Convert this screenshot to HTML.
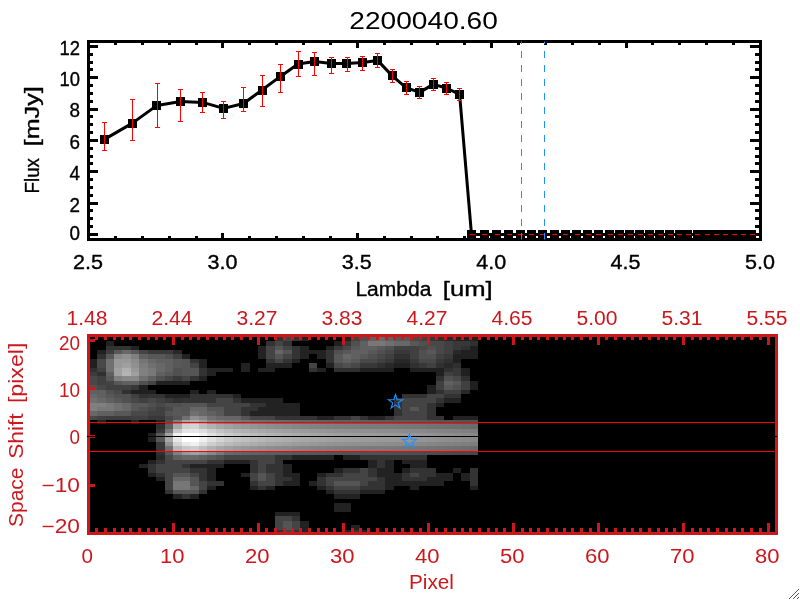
<!DOCTYPE html>
<html lang="en"><head><meta charset="utf-8"><title>2200040.60</title>
<style>html,body{margin:0;padding:0;background:#fff;overflow:hidden}svg{will-change:transform}svg text{white-space:pre}</style></head>
<body>
<svg width="800" height="600" viewBox="0 0 800 600" style="display:block">
<rect x="0" y="0" width="800" height="600" fill="#fff"/>
<rect x="88.5" y="41.5" width="672" height="198" fill="none" stroke="#000" stroke-width="3" shape-rendering="crispEdges"/>
<path fill="none" stroke="#000" stroke-width="3" shape-rendering="crispEdges" d="M88.5 233.0v5M88.5 43.0v5M115.5 236.0v2M115.5 43.0v2M142.5 236.0v2M142.5 43.0v2M169.5 236.0v2M169.5 43.0v2M196.5 236.0v2M196.5 43.0v2M222.5 233.0v5M222.5 43.0v5M249.5 236.0v2M249.5 43.0v2M276.5 236.0v2M276.5 43.0v2M303.5 236.0v2M303.5 43.0v2M330.5 236.0v2M330.5 43.0v2M357.5 233.0v5M357.5 43.0v5M384.5 236.0v2M384.5 43.0v2M411.5 236.0v2M411.5 43.0v2M437.5 236.0v2M437.5 43.0v2M464.5 236.0v2M464.5 43.0v2M491.5 233.0v5M491.5 43.0v5M518.5 236.0v2M518.5 43.0v2M545.5 236.0v2M545.5 43.0v2M572.5 236.0v2M572.5 43.0v2M599.5 236.0v2M599.5 43.0v2M626.5 233.0v5M626.5 43.0v5M652.5 236.0v2M652.5 43.0v2M679.5 236.0v2M679.5 43.0v2M706.5 236.0v2M706.5 43.0v2M733.5 236.0v2M733.5 43.0v2M760.5 233.0v5M760.5 43.0v5M90 234.5h8M759 234.5h-9M90 226.5h3M759 226.5h-4M90 218.5h3M759 218.5h-4M90 210.5h3M759 210.5h-4M90 203.5h8M759 203.5h-9M90 195.5h3M759 195.5h-4M90 187.5h3M759 187.5h-4M90 179.5h3M759 179.5h-4M90 171.5h8M759 171.5h-9M90 163.5h3M759 163.5h-4M90 156.5h3M759 156.5h-4M90 148.5h3M759 148.5h-4M90 140.5h8M759 140.5h-9M90 132.5h3M759 132.5h-4M90 124.5h3M759 124.5h-4M90 116.5h3M759 116.5h-4M90 109.5h8M759 109.5h-9M90 101.5h3M759 101.5h-4M90 93.5h3M759 93.5h-4M90 85.5h3M759 85.5h-4M90 77.5h8M759 77.5h-9M90 69.5h3M759 69.5h-4M90 62.5h3M759 62.5h-4M90 54.5h3M759 54.5h-4M90 46.5h8M759 46.5h-9"/>
<defs><clipPath id="cu"><rect x="88.5" y="41.5" width="672" height="198"/></clipPath></defs>
<g clip-path="url(#cu)">
<polyline fill="none" stroke="#000" stroke-width="3" stroke-linejoin="round" points="104.4,139.4 132.0,123.4 157.0,105.4 180.6,101.6 202.6,102.4 223.6,108.4 243.6,103.5 262.0,90.0 280.4,76.4 298.0,64.0 314.8,61.6 331.2,63.6 347.0,63.6 362.4,62.4 377.6,60.4 392.0,75.6 406.0,87.6 419.6,92.4 433.2,84.4 446.4,88.0 459.6,94.4 471.5,234.5 484.4,234.5 496.6,234.5 508.6,234.5 520.0,234.5 531.4,234.5 542.4,234.5 554.0,234.5 565.4,234.5 576.6,234.5 587.6,234.5 598.4,234.5 609.6,234.5 619.6,234.5 629.6,234.5 639.6,234.5 649.6,234.5 659.6,234.5 669.6,234.5 679.4,234.5 687.6,234.5 697.4,234.5 706.6,234.5 715.9,234.5 724.9,234.5 733.9,234.5 742.9,234.5 751.9,234.5"/>
<path fill="#000" shape-rendering="crispEdges" d="M100 135h9v9h-9zM128 119h9v9h-9zM152 101h9v9h-9zM176 97h9v9h-9zM198 98h9v9h-9zM219 104h9v9h-9zM239 99h9v9h-9zM258 86h9v9h-9zM276 72h9v9h-9zM294 60h9v9h-9zM310 57h9v9h-9zM327 59h9v9h-9zM342 59h9v9h-9zM358 58h9v9h-9zM373 56h9v9h-9zM388 71h9v9h-9zM402 83h9v9h-9zM415 88h9v9h-9zM429 80h9v9h-9zM442 84h9v9h-9zM455 90h9v9h-9zM467 230h9v9h-9zM480 230h9v9h-9zM492 230h9v9h-9zM504 230h9v9h-9zM516 230h9v9h-9zM527 230h9v9h-9zM538 230h9v9h-9zM550 230h9v9h-9zM561 230h9v9h-9zM572 230h9v9h-9zM583 230h9v9h-9zM594 230h9v9h-9zM605 230h9v9h-9zM615 230h9v9h-9zM625 230h9v9h-9zM635 230h9v9h-9zM645 230h9v9h-9zM655 230h9v9h-9zM665 230h9v9h-9zM675 230h9v9h-9zM683 230h9v9h-9zM693 230h9v9h-9zM702 230h9v9h-9zM711 230h9v9h-9zM720 230h9v9h-9zM729 230h9v9h-9zM738 230h9v9h-9zM747 230h9v9h-9z"/>
<path fill="none" stroke="#f00" stroke-width="1" shape-rendering="crispEdges" d="M104.5 122.0V151.0M102.0 122.5h5M102.0 150.5h5M132.5 99.0V141.0M130.0 99.5h5M130.0 140.5h5M157.5 83.0V128.0M155.0 83.5h5M155.0 127.5h5M180.5 89.0V122.0M178.0 89.5h5M178.0 121.5h5M202.5 92.0V113.0M200.0 92.5h5M200.0 112.5h5M223.5 101.0V119.0M221.0 101.5h5M221.0 118.5h5M243.5 87.0V112.0M241.0 87.5h5M241.0 111.5h5M262.5 75.0V107.0M260.0 75.5h5M260.0 106.5h5M280.5 64.0V93.0M278.0 64.5h5M278.0 92.5h5M298.5 51.0V77.0M296.0 51.5h5M296.0 76.5h5M314.5 52.0V76.0M312.0 52.5h5M312.0 75.5h5M331.5 57.0V74.0M329.0 57.5h5M329.0 73.5h5M347.5 57.0V72.0M345.0 57.5h5M345.0 71.5h5M362.5 56.0V71.0M360.0 56.5h5M360.0 70.5h5M377.5 53.0V68.0M375.0 53.5h5M375.0 67.5h5M392.5 69.0V83.0M390.0 69.5h5M390.0 82.5h5M406.5 81.0V95.0M404.0 81.5h5M404.0 94.5h5M419.5 86.0V99.0M417.0 86.5h5M417.0 98.5h5M433.5 78.0V91.0M431.0 78.5h5M431.0 90.5h5M446.5 82.0V95.0M444.0 82.5h5M444.0 94.5h5M459.5 88.0V101.0M457.0 88.5h5M457.0 100.5h5M469.5 234.5h5M481.5 234.5h5M494.5 234.5h5M506.5 234.5h5M517.5 234.5h5M528.5 234.5h5M539.5 234.5h5M551.5 234.5h5M562.5 234.5h5M574.5 234.5h5M585.5 234.5h5M595.5 234.5h5M607.5 234.5h5M617.5 234.5h5M627.5 234.5h5M637.5 234.5h5M647.5 234.5h5M657.5 234.5h5M667.5 234.5h5M676.5 234.5h5M685.5 234.5h5M694.5 234.5h5M704.5 234.5h5M713.5 234.5h5M722.5 234.5h5M731.5 234.5h5M740.5 234.5h5M749.5 234.5h5"/>
<path fill="none" stroke="#1e90ff" stroke-width="1" shape-rendering="crispEdges" stroke-dasharray="7 7" stroke-dashoffset="-0" d="M521.5 37V241M544.5 37V241"/>
</g>
<g font-family="'Liberation Sans', sans-serif">
<text x="423.6" y="29.2" font-size="24.6" fill="#000" text-anchor="middle" textLength="148.5" lengthAdjust="spacingAndGlyphs">2200040.60</text>
<g stroke="#000" stroke-width="0.35" stroke-linejoin="round">
<text x="80.0" y="55.3" font-size="19.6" fill="#000" text-anchor="end" textLength="20.5" lengthAdjust="spacingAndGlyphs">12</text>
<text x="80.0" y="85.8" font-size="19.6" fill="#000" text-anchor="end" textLength="20.5" lengthAdjust="spacingAndGlyphs">10</text>
<text x="80.0" y="117.0" font-size="19.6" fill="#000" text-anchor="end" textLength="10.5" lengthAdjust="spacingAndGlyphs">8</text>
<text x="80.0" y="148.6" font-size="19.6" fill="#000" text-anchor="end" textLength="10.5" lengthAdjust="spacingAndGlyphs">6</text>
<text x="80.0" y="179.8" font-size="19.6" fill="#000" text-anchor="end" textLength="10.5" lengthAdjust="spacingAndGlyphs">4</text>
<text x="80.0" y="211.6" font-size="19.6" fill="#000" text-anchor="end" textLength="10.5" lengthAdjust="spacingAndGlyphs">2</text>
<text x="80.0" y="240.0" font-size="19.6" fill="#000" text-anchor="end" textLength="10.5" lengthAdjust="spacingAndGlyphs">0</text>
<text x="88.0" y="269.4" font-size="19.6" fill="#000" text-anchor="middle" textLength="30.0" lengthAdjust="spacingAndGlyphs">2.5</text>
<text x="222.4" y="269.4" font-size="19.6" fill="#000" text-anchor="middle" textLength="30.0" lengthAdjust="spacingAndGlyphs">3.0</text>
<text x="356.8" y="269.4" font-size="19.6" fill="#000" text-anchor="middle" textLength="30.0" lengthAdjust="spacingAndGlyphs">3.5</text>
<text x="491.2" y="269.4" font-size="19.6" fill="#000" text-anchor="middle" textLength="30.0" lengthAdjust="spacingAndGlyphs">4.0</text>
<text x="625.6" y="269.4" font-size="19.6" fill="#000" text-anchor="middle" textLength="30.0" lengthAdjust="spacingAndGlyphs">4.5</text>
<text x="760.0" y="269.4" font-size="19.6" fill="#000" text-anchor="middle" textLength="30.0" lengthAdjust="spacingAndGlyphs">5.0</text>
<text y="295.6" font-size="19.6" fill="#000"><tspan x="355.4" textLength="76.0" lengthAdjust="spacingAndGlyphs">Lambda</tspan><tspan font-size="1"> </tspan><tspan x="442.8" textLength="49.8" lengthAdjust="spacingAndGlyphs">[um]</tspan></text>
<text y="140.0" font-size="19.6" fill="#000" transform="rotate(-90 39.0 140.0)"><tspan x="-14.5" textLength="35.5" lengthAdjust="spacingAndGlyphs">Flux</tspan><tspan font-size="1"> </tspan><tspan x="32.7" textLength="60.0" lengthAdjust="spacingAndGlyphs">[mJy]</tspan></text>
</g></g>
<rect x="88" y="335" width="689" height="199" fill="#000"/>
<g shape-rendering="crispEdges">
<path fill="rgb(32,32,32)" d="M343 337h8v4h-8zM453 337h25v4h-25zM334 341h9v5h-9zM470 346h8v4h-8zM97 350h9v4h-9zM461 350h17v4h-17zM453 354h25v5h-25zM89 359h8v4h-8zM453 359h8v4h-8zM89 363h8v5h-8zM394 363h16v5h-16zM360 368h34v4h-34zM410 368h34v4h-34zM461 368h9v4h-9zM436 372h8v4h-8zM461 372h9v4h-9zM156 381h26v4h-26zM470 381h8v4h-8zM139 385h9v5h-9zM427 385h9v5h-9zM470 385h8v5h-8zM131 390h25v4h-25zM427 390h9v4h-9zM156 420h9v4h-9zM148 433h8v5h-8zM148 438h8v4h-8z"/>
<path fill="rgb(34,34,34)" d="M300 337h9v4h-9zM106 341h8v5h-8zM131 346h8v4h-8zM258 346h8v4h-8zM300 346h9v4h-9zM326 346h8v4h-8zM258 350h8v4h-8zM300 350h26v4h-26zM182 354h8v5h-8zM258 354h8v5h-8zM300 354h9v5h-9zM317 354h9v5h-9zM199 359h8v4h-8zM292 359h8v4h-8zM199 363h8v5h-8zM241 363h9v5h-9zM266 363h26v5h-26zM326 363h8v5h-8zM207 368h26v4h-26zM241 368h9v4h-9zM258 368h17v4h-17zM317 368h9v4h-9zM207 372h9v4h-9zM199 376h8v5h-8zM182 381h8v4h-8zM190 390h9v4h-9zM207 390h9v4h-9zM165 394h25v4h-25zM233 394h8v4h-8zM241 398h42v5h-42zM444 398h17v5h-17zM266 403h34v4h-34zM436 403h8v4h-8zM258 407h42v4h-42zM250 411h50v5h-50zM317 416h17v4h-17zM368 416h17v4h-17zM453 416h25v4h-25zM97 420h9v4h-9zM131 420h8v4h-8zM292 455h42v5h-42zM343 455h17v5h-17zM148 460h8v4h-8zM224 460h26v4h-26zM368 460h9v4h-9zM385 460h9v4h-9zM402 460h25v4h-25zM139 464h9v4h-9zM190 464h34v4h-34zM283 464h9v4h-9zM368 464h9v4h-9zM385 464h9v4h-9zM410 464h17v4h-17zM207 468h9v5h-9zM283 468h9v5h-9zM334 468h9v5h-9zM377 468h17v5h-17zM402 468h8v5h-8zM453 468h8v5h-8zM148 473h8v4h-8zM207 473h9v4h-9zM241 473h9v4h-9zM283 473h17v4h-17zM317 473h9v4h-9zM377 473h25v4h-25zM436 473h17v4h-17zM461 473h9v4h-9zM156 477h9v4h-9zM207 477h9v4h-9zM292 477h8v4h-8zM385 477h17v4h-17zM427 477h26v4h-26zM461 477h9v4h-9zM283 481h17v5h-17zM309 481h8v5h-8zM385 481h59v5h-59zM207 486h9v4h-9zM250 486h8v4h-8zM266 486h9v4h-9zM317 486h9v4h-9zM385 486h9v4h-9zM410 486h9v4h-9zM470 486h8v4h-8zM326 490h8v4h-8zM360 490h25v4h-25zM173 494h9v5h-9zM190 494h9v5h-9zM334 494h26v5h-26zM334 503h17v5h-17zM334 508h17v4h-17zM275 512h25v4h-25zM300 521h9v4h-9zM300 525h9v5h-9zM351 525h9v5h-9zM300 530h9v4h-9zM343 530h8v4h-8zM360 530h8v4h-8z"/>
<path fill="rgb(40,40,40)" d="M444 337h9v4h-9zM173 350h9v4h-9zM453 350h8v4h-8zM394 359h16v4h-16zM385 363h9v5h-9zM444 363h9v5h-9zM461 390h9v4h-9zM156 455h9v5h-9z"/>
<path fill="rgb(48,48,48)" d="M436 337h8v4h-8zM470 341h8v5h-8zM461 346h9v4h-9zM97 354h9v5h-9zM394 354h16v5h-16zM444 359h9v4h-9zM377 363h8v5h-8zM410 363h9v5h-9zM436 363h8v5h-8zM453 363h8v5h-8zM89 368h8v4h-8zM334 368h26v4h-26zM444 368h9v4h-9zM97 372h9v4h-9zM436 376h8v5h-8zM461 376h9v5h-9zM122 390h9v4h-9zM436 390h8v4h-8zM139 394h9v4h-9zM173 398h9v5h-9zM156 424h9v5h-9zM156 451h9v4h-9z"/>
<path fill="rgb(51,51,51)" d="M275 337h8v4h-8zM292 337h8v4h-8zM266 341h9v5h-9zM283 341h9v5h-9zM106 346h25v4h-25zM292 346h8v4h-8zM292 350h8v4h-8zM326 350h8v4h-8zM292 354h8v5h-8zM326 354h8v5h-8zM190 359h9v4h-9zM266 359h9v4h-9zM283 359h9v4h-9zM326 359h8v4h-8zM199 368h8v4h-8zM309 368h8v4h-8zM199 372h8v4h-8zM190 376h9v5h-9zM148 394h17v4h-17zM190 394h43v4h-43zM402 394h25v4h-25zM444 394h17v4h-17zM182 398h34v5h-34zM233 398h8v5h-8zM394 398h8v5h-8zM436 398h8v5h-8zM250 403h16v4h-16zM394 403h8v4h-8zM427 403h9v4h-9zM241 407h17v4h-17zM394 407h8v4h-8zM427 407h9v4h-9zM241 411h9v5h-9zM394 411h8v5h-8zM427 411h9v5h-9zM275 416h42v4h-42zM334 416h17v4h-17zM360 416h8v4h-8zM385 416h9v4h-9zM427 416h17v4h-17zM275 455h17v5h-17zM360 455h67v5h-67zM156 460h9v4h-9zM207 460h17v4h-17zM250 460h8v4h-8zM275 460h8v4h-8zM377 460h8v4h-8zM148 464h8v4h-8zM182 464h8v4h-8zM250 464h8v4h-8zM266 464h17v4h-17zM377 464h8v4h-8zM148 468h8v5h-8zM190 468h17v5h-17zM250 468h8v5h-8zM266 468h17v5h-17zM343 468h17v5h-17zM368 468h9v5h-9zM410 468h26v5h-26zM470 468h8v5h-8zM156 473h9v4h-9zM199 473h8v4h-8zM275 473h8v4h-8zM326 473h17v4h-17zM368 473h9v4h-9zM402 473h8v4h-8zM419 473h17v4h-17zM470 473h8v4h-8zM199 477h8v4h-8zM275 477h17v4h-17zM317 477h9v4h-9zM377 477h8v4h-8zM402 477h25v4h-25zM470 477h8v4h-8zM207 481h17v5h-17zM250 481h8v5h-8zM275 481h8v5h-8zM317 481h9v5h-9zM368 481h17v5h-17zM470 481h8v5h-8zM258 486h8v4h-8zM326 486h8v4h-8zM360 486h25v4h-25zM165 490h8v4h-8zM199 490h8v4h-8zM334 490h26v4h-26zM182 494h8v5h-8zM292 516h8v5h-8zM275 530h8v4h-8zM292 530h8v4h-8zM351 530h9v4h-9z"/>
<path fill="rgb(56,56,56)" d="M427 337h9v4h-9zM343 341h8v5h-8zM453 341h17v5h-17zM334 346h9v4h-9zM453 346h8v4h-8zM148 350h25v4h-25zM394 350h16v4h-16zM444 354h9v5h-9zM385 359h9v4h-9zM410 359h9v4h-9zM436 359h8v4h-8zM360 363h17v5h-17zM419 363h8v5h-8zM453 368h8v4h-8zM453 372h8v4h-8zM173 376h9v5h-9zM131 385h8v5h-8zM165 398h8v5h-8zM148 416h17v4h-17zM156 429h9v4h-9zM156 442h9v4h-9zM156 446h9v5h-9z"/>
<path fill="rgb(60,60,60)" d="M106 350h8v4h-8zM89 372h8v4h-8zM106 416h25v4h-25z"/>
<path fill="rgb(64,64,64)" d="M351 337h9v4h-9zM419 337h8v4h-8zM444 341h9v5h-9zM394 346h25v4h-25zM444 346h9v4h-9zM410 350h9v4h-9zM444 350h9v4h-9zM173 354h9v5h-9zM385 354h9v5h-9zM410 354h9v5h-9zM436 354h8v5h-8zM377 359h8v4h-8zM427 363h9v5h-9zM97 368h9v4h-9zM444 372h9v4h-9zM97 376h9v5h-9zM97 381h9v4h-9zM436 381h8v4h-8zM461 381h9v4h-9zM106 385h25v5h-25zM436 385h8v5h-8zM461 385h9v5h-9zM444 390h17v4h-17zM131 394h8v4h-8zM139 398h9v5h-9zM156 398h9v5h-9zM156 407h9v4h-9zM148 411h17v5h-17zM97 416h9v4h-9zM131 416h17v4h-17z"/>
<path fill="rgb(68,68,68)" d="M283 337h9v4h-9zM275 341h8v5h-8zM266 346h9v4h-9zM283 346h9v4h-9zM139 350h9v4h-9zM266 350h9v4h-9zM266 354h9v5h-9zM283 354h9v5h-9zM275 359h8v4h-8zM190 363h9v5h-9zM309 363h8v5h-8zM165 376h8v5h-8zM182 376h8v5h-8zM106 381h8v4h-8zM148 381h8v4h-8zM427 394h17v4h-17zM216 398h17v5h-17zM402 398h34v5h-34zM207 403h43v4h-43zM402 403h25v4h-25zM224 407h17v4h-17zM402 407h8v4h-8zM419 407h8v4h-8zM224 411h17v5h-17zM402 411h25v5h-25zM250 416h25v4h-25zM351 416h9v4h-9zM394 416h33v4h-33zM224 455h51v5h-51zM165 460h42v4h-42zM258 460h17v4h-17zM156 464h26v4h-26zM258 464h8v4h-8zM156 468h34v5h-34zM258 468h8v5h-8zM360 468h8v5h-8zM165 473h8v4h-8zM190 473h9v4h-9zM250 473h8v4h-8zM266 473h9v4h-9zM343 473h25v4h-25zM410 473h9v4h-9zM165 477h8v4h-8zM250 477h8v4h-8zM266 477h9v4h-9zM326 477h51v4h-51zM165 481h8v5h-8zM199 481h8v5h-8zM258 481h17v5h-17zM326 481h8v5h-8zM360 481h8v5h-8zM165 486h8v4h-8zM199 486h8v4h-8zM334 486h26v4h-26zM275 516h17v5h-17zM275 521h8v4h-8zM292 521h8v4h-8zM275 525h8v5h-8zM292 525h8v5h-8zM283 530h9v4h-9z"/>
<path fill="rgb(71,71,71)" d="M470 451h8v4h-8z"/>
<path fill="rgb(72,72,72)" d="M410 337h9v4h-9zM427 341h17v5h-17zM343 346h8v4h-8zM419 346h8v4h-8zM436 346h8v4h-8zM385 350h9v4h-9zM436 350h8v4h-8zM377 354h8v5h-8zM97 359h9v4h-9zM360 359h17v4h-17zM419 359h17v4h-17zM97 363h9v5h-9zM334 363h9v5h-9zM351 363h9v5h-9zM89 376h8v5h-8zM453 376h8v5h-8zM89 381h8v4h-8zM97 385h9v5h-9zM114 390h8v4h-8zM131 398h8v5h-8zM148 398h8v5h-8zM156 403h9v4h-9zM148 407h8v4h-8zM165 407h8v4h-8zM131 411h17v5h-17zM89 416h8v4h-8zM165 416h8v4h-8zM461 451h9v4h-9zM165 455h8v5h-8z"/>
<path fill="rgb(73,73,73)" d="M453 451h8v4h-8z"/>
<path fill="rgb(74,74,74)" d="M444 451h9v4h-9z"/>
<path fill="rgb(75,75,75)" d="M436 451h8v4h-8z"/>
<path fill="rgb(76,76,76)" d="M427 451h9v4h-9z"/>
<path fill="rgb(77,77,77)" d="M419 451h8v4h-8z"/>
<path fill="rgb(78,78,78)" d="M410 451h9v4h-9z"/>
<path fill="rgb(79,79,79)" d="M394 451h16v4h-16z"/>
<path fill="rgb(80,80,80)" d="M360 337h8v4h-8zM351 341h9v5h-9zM419 341h8v5h-8zM385 346h9v4h-9zM427 346h9v4h-9zM334 350h9v4h-9zM377 350h8v4h-8zM419 350h8v4h-8zM165 354h8v5h-8zM368 354h9v5h-9zM419 354h17v5h-17zM343 363h8v5h-8zM173 368h9v4h-9zM173 372h9v4h-9zM156 376h9v5h-9zM444 376h9v5h-9zM139 381h9v4h-9zM89 385h8v5h-8zM453 385h8v5h-8zM106 390h8v4h-8zM114 394h17v4h-17zM122 398h9v5h-9zM148 403h8v4h-8zM165 403h17v4h-17zM139 407h9v4h-9zM165 420h8v4h-8zM377 451h17v4h-17zM216 455h8v5h-8z"/>
<path fill="rgb(81,81,81)" d="M360 451h17v4h-17z"/>
<path fill="rgb(82,82,82)" d="M470 420h8v4h-8zM343 451h17v4h-17z"/>
<path fill="rgb(83,83,83)" d="M461 420h9v4h-9zM334 451h9v4h-9z"/>
<path fill="rgb(84,84,84)" d="M165 411h8v5h-8zM173 416h9v4h-9zM453 420h8v4h-8zM326 451h8v4h-8z"/>
<path fill="rgb(85,85,85)" d="M275 346h8v4h-8zM283 350h9v4h-9zM275 354h8v5h-8zM182 359h8v4h-8zM182 363h8v5h-8zM182 368h17v4h-17zM182 372h17v4h-17zM182 403h25v4h-25zM182 407h8v4h-8zM207 407h17v4h-17zM410 407h9v4h-9zM241 416h9v4h-9zM444 420h9v4h-9zM317 451h9v4h-9zM173 473h17v4h-17zM258 473h8v4h-8zM190 477h9v4h-9zM258 477h8v4h-8zM190 481h9v5h-9zM334 481h26v5h-26zM173 490h26v4h-26zM283 521h9v4h-9zM283 525h9v5h-9z"/>
<path fill="rgb(86,86,86)" d="M436 420h8v4h-8zM309 451h8v4h-8z"/>
<path fill="rgb(87,87,87)" d="M300 451h9v4h-9z"/>
<path fill="rgb(88,88,88)" d="M394 337h16v4h-16zM410 341h9v5h-9zM351 346h9v4h-9zM377 346h8v4h-8zM114 350h8v4h-8zM131 350h8v4h-8zM343 350h8v4h-8zM368 350h9v4h-9zM427 350h9v4h-9zM106 354h8v5h-8zM148 354h17v5h-17zM334 354h9v5h-9zM360 354h8v5h-8zM173 359h9v4h-9zM334 359h9v4h-9zM351 359h9v4h-9zM173 363h9v5h-9zM165 372h8v4h-8zM106 376h8v5h-8zM114 381h8v4h-8zM453 381h8v4h-8zM444 385h9v5h-9zM106 394h8v4h-8zM114 398h8v5h-8zM131 403h17v4h-17zM131 407h8v4h-8zM173 407h9v4h-9zM114 411h17v5h-17zM173 411h17v5h-17zM216 411h8v5h-8zM427 420h9v4h-9zM156 433h9v5h-9zM156 438h9v4h-9zM165 451h8v4h-8zM292 451h8v4h-8zM207 455h9v5h-9z"/>
<path fill="rgb(89,89,89)" d="M419 420h8v4h-8z"/>
<path fill="rgb(90,90,90)" d="M410 420h9v4h-9zM283 451h9v4h-9z"/>
<path fill="rgb(91,91,91)" d="M394 420h16v4h-16z"/>
<path fill="rgb(92,92,92)" d="M377 420h17v4h-17zM275 451h8v4h-8z"/>
<path fill="rgb(93,93,93)" d="M368 420h9v4h-9zM266 451h9v4h-9z"/>
<path fill="rgb(94,94,94)" d="M351 420h17v4h-17z"/>
<path fill="rgb(95,95,95)" d="M334 420h17v4h-17zM258 451h8v4h-8z"/>
<path fill="rgb(96,96,96)" d="M368 337h9v4h-9zM385 337h9v4h-9zM360 341h8v5h-8zM360 346h17v4h-17zM351 350h17v4h-17zM139 354h9v5h-9zM351 354h9v5h-9zM156 359h17v4h-17zM343 359h8v4h-8zM165 363h8v5h-8zM165 368h8v4h-8zM106 372h8v4h-8zM156 372h9v4h-9zM148 376h8v5h-8zM122 381h17v4h-17zM444 381h9v4h-9zM89 390h17v4h-17zM97 394h9v4h-9zM106 398h8v5h-8zM97 411h17v5h-17zM207 411h9v5h-9zM165 424h8v5h-8zM173 455h9v5h-9zM199 455h8v5h-8z"/>
<path fill="rgb(97,97,97)" d="M326 420h8v4h-8zM250 451h8v4h-8z"/>
<path fill="rgb(98,98,98)" d="M317 420h9v4h-9z"/>
<path fill="rgb(99,99,99)" d="M309 420h8v4h-8zM241 451h9v4h-9z"/>
<path fill="rgb(100,100,100)" d="M300 420h9v4h-9z"/>
<path fill="rgb(102,102,102)" d="M275 350h8v4h-8zM190 407h17v4h-17zM224 416h17v4h-17zM292 420h8v4h-8zM233 451h8v4h-8zM173 477h17v4h-17zM190 486h9v4h-9z"/>
<path fill="rgb(104,104,104)" d="M377 337h8v4h-8zM394 341h16v5h-16zM122 350h9v4h-9zM343 354h8v5h-8zM148 359h8v4h-8zM156 363h9v5h-9zM156 368h9v4h-9zM89 394h8v4h-8zM97 398h9v5h-9zM122 403h9v4h-9zM122 407h9v4h-9zM89 411h8v5h-8zM199 411h8v5h-8zM216 416h8v4h-8zM283 420h9v4h-9zM182 455h17v5h-17z"/>
<path fill="rgb(105,105,105)" d="M224 451h9v4h-9z"/>
<path fill="rgb(106,106,106)" d="M275 420h8v4h-8z"/>
<path fill="rgb(107,107,107)" d="M266 420h9v4h-9zM470 424h8v5h-8zM470 446h8v5h-8z"/>
<path fill="rgb(109,109,109)" d="M461 424h9v5h-9zM461 446h9v5h-9z"/>
<path fill="rgb(110,110,110)" d="M258 420h8v4h-8z"/>
<path fill="rgb(111,111,111)" d="M453 424h8v5h-8zM453 446h8v5h-8z"/>
<path fill="rgb(112,112,112)" d="M385 341h9v5h-9zM106 359h8v4h-8zM106 363h8v5h-8zM148 363h8v5h-8zM106 368h8v4h-8zM139 376h9v5h-9zM89 398h8v5h-8zM114 403h8v4h-8zM114 407h8v4h-8zM190 411h9v5h-9zM182 416h8v4h-8zM207 416h9v4h-9zM250 420h8v4h-8zM444 424h9v5h-9zM165 446h8v5h-8zM444 446h9v5h-9z"/>
<path fill="rgb(114,114,114)" d="M436 424h8v5h-8zM436 446h8v5h-8z"/>
<path fill="rgb(115,115,115)" d="M241 420h9v4h-9zM427 424h9v5h-9zM427 446h9v5h-9z"/>
<path fill="rgb(116,116,116)" d="M139 359h9v4h-9z"/>
<path fill="rgb(117,117,117)" d="M419 424h8v5h-8zM419 446h8v5h-8z"/>
<path fill="rgb(118,118,118)" d="M233 420h8v4h-8zM410 424h9v5h-9zM410 446h9v5h-9z"/>
<path fill="rgb(119,119,119)" d="M402 424h8v5h-8zM402 446h8v5h-8zM173 481h17v5h-17zM173 486h17v4h-17z"/>
<path fill="rgb(120,120,120)" d="M368 341h17v5h-17zM148 368h8v4h-8zM148 372h8v4h-8zM106 403h8v4h-8zM97 407h17v4h-17zM394 424h8v5h-8zM165 429h8v4h-8zM394 446h8v5h-8zM216 451h8v4h-8z"/>
<path fill="rgb(121,121,121)" d="M224 420h9v4h-9zM385 424h9v5h-9zM385 446h9v5h-9z"/>
<path fill="rgb(122,122,122)" d="M368 424h17v5h-17zM368 446h17v5h-17z"/>
<path fill="rgb(123,123,123)" d="M360 424h8v5h-8zM360 446h8v5h-8z"/>
<path fill="rgb(124,124,124)" d="M139 363h9v5h-9zM351 424h9v5h-9zM351 446h9v5h-9z"/>
<path fill="rgb(125,125,125)" d="M343 424h8v5h-8zM470 429h8v4h-8zM470 442h8v4h-8zM343 446h8v5h-8z"/>
<path fill="rgb(126,126,126)" d="M334 424h9v5h-9zM334 446h9v5h-9z"/>
<path fill="rgb(127,127,127)" d="M216 420h8v4h-8zM326 424h8v5h-8zM461 429h9v4h-9zM461 442h9v4h-9zM326 446h8v5h-8z"/>
<path fill="rgb(128,128,128)" d="M131 354h8v5h-8zM139 368h9v4h-9zM139 372h9v4h-9zM114 376h8v5h-8zM89 403h17v4h-17zM89 407h8v4h-8zM173 420h9v4h-9zM173 451h9v4h-9z"/>
<path fill="rgb(129,129,129)" d="M317 424h9v5h-9zM453 429h8v4h-8zM453 442h8v4h-8zM317 446h9v5h-9z"/>
<path fill="rgb(130,130,130)" d="M309 424h8v5h-8zM309 446h8v5h-8z"/>
<path fill="rgb(131,131,131)" d="M444 429h9v4h-9zM444 442h9v4h-9z"/>
<path fill="rgb(132,132,132)" d="M199 416h8v4h-8zM300 424h9v5h-9zM436 429h8v4h-8zM436 442h8v4h-8zM300 446h9v5h-9z"/>
<path fill="rgb(134,134,134)" d="M207 420h9v4h-9zM292 424h8v5h-8zM427 429h9v4h-9zM427 442h9v4h-9zM292 446h8v5h-8z"/>
<path fill="rgb(136,136,136)" d="M114 354h8v5h-8zM122 376h17v5h-17zM419 429h8v4h-8zM470 433h8v5h-8zM470 438h8v4h-8zM419 442h8v4h-8zM207 451h9v4h-9z"/>
<path fill="rgb(137,137,137)" d="M283 424h9v5h-9zM283 446h9v5h-9z"/>
<path fill="rgb(138,138,138)" d="M410 429h9v4h-9zM461 433h9v5h-9zM461 438h9v4h-9zM410 442h9v4h-9z"/>
<path fill="rgb(139,139,139)" d="M275 424h8v5h-8zM402 429h8v4h-8zM402 442h8v4h-8zM275 446h8v5h-8z"/>
<path fill="rgb(140,140,140)" d="M131 359h8v4h-8zM394 429h8v4h-8zM453 433h8v5h-8zM453 438h8v4h-8zM394 442h8v4h-8z"/>
<path fill="rgb(141,141,141)" d="M266 424h9v5h-9zM385 429h9v4h-9zM385 442h9v4h-9zM266 446h9v5h-9z"/>
<path fill="rgb(142,142,142)" d="M377 429h8v4h-8zM444 433h9v5h-9zM444 438h9v4h-9zM377 442h8v4h-8z"/>
<path fill="rgb(143,143,143)" d="M368 429h9v4h-9zM368 442h9v4h-9z"/>
<path fill="rgb(144,144,144)" d="M122 354h9v5h-9zM131 363h8v5h-8zM190 416h9v4h-9zM351 429h17v4h-17zM436 433h8v5h-8zM436 438h8v4h-8zM165 442h8v4h-8zM351 442h17v4h-17z"/>
<path fill="rgb(145,145,145)" d="M258 424h8v5h-8zM343 429h8v4h-8zM343 442h8v4h-8zM258 446h8v5h-8z"/>
<path fill="rgb(146,146,146)" d="M334 429h9v4h-9zM427 433h9v5h-9zM427 438h9v4h-9zM334 442h9v4h-9z"/>
<path fill="rgb(148,148,148)" d="M250 424h8v5h-8zM326 429h8v4h-8zM419 433h8v5h-8zM419 438h8v4h-8zM326 442h8v4h-8zM250 446h8v5h-8z"/>
<path fill="rgb(150,150,150)" d="M317 429h9v4h-9zM410 433h9v5h-9zM410 438h9v4h-9zM317 442h9v4h-9z"/>
<path fill="rgb(151,151,151)" d="M241 424h9v5h-9zM402 433h8v5h-8zM402 438h8v4h-8zM241 446h9v5h-9z"/>
<path fill="rgb(152,152,152)" d="M114 359h17v4h-17zM114 363h8v5h-8zM131 368h8v4h-8zM309 429h8v4h-8zM394 433h8v5h-8zM394 438h8v4h-8zM309 442h8v4h-8zM182 451h8v4h-8zM199 451h8v4h-8z"/>
<path fill="rgb(153,153,153)" d="M385 433h9v5h-9zM385 438h9v4h-9z"/>
<path fill="rgb(154,154,154)" d="M300 429h9v4h-9zM377 433h8v5h-8zM377 438h8v4h-8zM300 442h9v4h-9z"/>
<path fill="rgb(155,155,155)" d="M233 424h8v5h-8zM368 433h9v5h-9zM368 438h9v4h-9zM233 446h8v5h-8z"/>
<path fill="rgb(156,156,156)" d="M292 429h8v4h-8zM360 433h8v5h-8zM360 438h8v4h-8zM292 442h8v4h-8z"/>
<path fill="rgb(157,157,157)" d="M351 433h9v5h-9zM351 438h9v4h-9z"/>
<path fill="rgb(158,158,158)" d="M343 433h8v5h-8zM343 438h8v4h-8z"/>
<path fill="rgb(159,159,159)" d="M283 429h9v4h-9zM334 433h9v5h-9zM334 438h9v4h-9zM283 442h9v4h-9z"/>
<path fill="rgb(160,160,160)" d="M122 363h9v5h-9zM114 368h8v4h-8zM114 372h8v4h-8zM131 372h8v4h-8zM199 420h8v4h-8zM224 424h9v5h-9zM165 433h8v5h-8zM224 446h9v5h-9zM190 451h9v4h-9z"/>
<path fill="rgb(161,161,161)" d="M326 433h8v5h-8zM326 438h8v4h-8z"/>
<path fill="rgb(162,162,162)" d="M275 429h8v4h-8zM275 442h8v4h-8z"/>
<path fill="rgb(163,163,163)" d="M317 433h9v5h-9zM317 438h9v4h-9z"/>
<path fill="rgb(165,165,165)" d="M266 429h9v4h-9zM309 433h8v5h-8zM309 438h8v4h-8zM266 442h9v4h-9z"/>
<path fill="rgb(167,167,167)" d="M216 424h8v5h-8zM300 433h9v5h-9zM300 438h9v4h-9zM216 446h8v5h-8z"/>
<path fill="rgb(168,168,168)" d="M182 420h8v4h-8zM173 424h9v5h-9zM258 429h8v4h-8zM165 438h8v4h-8zM258 442h8v4h-8z"/>
<path fill="rgb(170,170,170)" d="M292 433h8v5h-8zM292 438h8v4h-8z"/>
<path fill="rgb(172,172,172)" d="M250 429h8v4h-8zM250 442h8v4h-8z"/>
<path fill="rgb(173,173,173)" d="M283 433h9v5h-9zM283 438h9v4h-9z"/>
<path fill="rgb(176,176,176)" d="M122 368h9v4h-9zM190 420h9v4h-9zM241 429h9v4h-9zM275 433h8v5h-8zM275 438h8v4h-8zM241 442h9v4h-9z"/>
<path fill="rgb(177,177,177)" d="M207 424h9v5h-9zM207 446h9v5h-9z"/>
<path fill="rgb(179,179,179)" d="M266 433h9v5h-9zM266 438h9v4h-9z"/>
<path fill="rgb(180,180,180)" d="M122 372h9v4h-9zM233 429h8v4h-8zM233 442h8v4h-8z"/>
<path fill="rgb(183,183,183)" d="M258 433h8v5h-8zM258 438h8v4h-8z"/>
<path fill="rgb(184,184,184)" d="M173 446h9v5h-9z"/>
<path fill="rgb(186,186,186)" d="M224 429h9v4h-9zM224 442h9v4h-9z"/>
<path fill="rgb(187,187,187)" d="M250 433h8v5h-8zM250 438h8v4h-8z"/>
<path fill="rgb(190,190,190)" d="M199 424h8v5h-8zM199 446h8v5h-8z"/>
<path fill="rgb(191,191,191)" d="M241 433h9v5h-9zM241 438h9v4h-9z"/>
<path fill="rgb(195,195,195)" d="M216 429h8v4h-8zM216 442h8v4h-8z"/>
<path fill="rgb(196,196,196)" d="M233 433h8v5h-8zM233 438h8v4h-8z"/>
<path fill="rgb(200,200,200)" d="M173 429h9v4h-9zM182 446h8v5h-8z"/>
<path fill="rgb(202,202,202)" d="M224 433h9v5h-9zM224 438h9v4h-9z"/>
<path fill="rgb(204,204,204)" d="M190 446h9v5h-9z"/>
<path fill="rgb(206,206,206)" d="M207 429h9v4h-9zM207 442h9v4h-9z"/>
<path fill="rgb(208,208,208)" d="M182 424h8v5h-8z"/>
<path fill="rgb(212,212,212)" d="M190 424h9v5h-9zM216 433h8v5h-8zM216 438h8v4h-8zM173 442h9v4h-9z"/>
<path fill="rgb(221,221,221)" d="M199 429h8v4h-8zM199 442h8v4h-8z"/>
<path fill="rgb(224,224,224)" d="M207 433h9v5h-9zM207 438h9v4h-9z"/>
<path fill="rgb(228,228,228)" d="M182 429h8v4h-8z"/>
<path fill="rgb(230,230,230)" d="M190 429h9v4h-9z"/>
<path fill="rgb(232,232,232)" d="M173 438h9v4h-9zM182 442h8v4h-8z"/>
<path fill="rgb(240,240,240)" d="M173 433h9v5h-9zM199 433h8v5h-8zM199 438h8v4h-8zM190 442h9v4h-9z"/>
<path fill="rgb(255,255,255)" d="M182 433h17v5h-17zM182 438h17v4h-17z"/>
</g>
<rect x="88.5" y="335.5" width="688" height="198" fill="none" stroke="#cb181d" stroke-width="3" shape-rendering="crispEdges"/>
<path fill="none" stroke="#cb181d" stroke-width="3" shape-rendering="crispEdges" d="M88.5 337v8M88.5 532v-9M96.5 337v3M96.5 532v-4M105.5 337v3M105.5 532v-4M114.5 337v3M114.5 532v-4M122.5 337v3M122.5 532v-4M130.5 337v3M130.5 532v-4M139.5 337v3M139.5 532v-4M148.5 337v3M148.5 532v-4M156.5 337v3M156.5 532v-4M164.5 337v3M164.5 532v-4M173.5 337v8M173.5 532v-9M182.5 337v3M182.5 532v-4M190.5 337v3M190.5 532v-4M198.5 337v3M198.5 532v-4M207.5 337v3M207.5 532v-4M216.5 337v3M216.5 532v-4M224.5 337v3M224.5 532v-4M232.5 337v3M232.5 532v-4M241.5 337v3M241.5 532v-4M250.5 337v3M250.5 532v-4M258.5 337v8M258.5 532v-9M266.5 337v3M266.5 532v-4M275.5 337v3M275.5 532v-4M284.5 337v3M284.5 532v-4M292.5 337v3M292.5 532v-4M300.5 337v3M300.5 532v-4M309.5 337v3M309.5 532v-4M318.5 337v3M318.5 532v-4M326.5 337v3M326.5 532v-4M334.5 337v3M334.5 532v-4M343.5 337v8M343.5 532v-9M352.5 337v3M352.5 532v-4M360.5 337v3M360.5 532v-4M368.5 337v3M368.5 532v-4M377.5 337v3M377.5 532v-4M386.5 337v3M386.5 532v-4M394.5 337v3M394.5 532v-4M402.5 337v3M402.5 532v-4M411.5 337v3M411.5 532v-4M420.5 337v3M420.5 532v-4M428.5 337v8M428.5 532v-9M436.5 337v3M436.5 532v-4M445.5 337v3M445.5 532v-4M454.5 337v3M454.5 532v-4M462.5 337v3M462.5 532v-4M470.5 337v3M470.5 532v-4M479.5 337v3M479.5 532v-4M488.5 337v3M488.5 532v-4M496.5 337v3M496.5 532v-4M504.5 337v3M504.5 532v-4M513.5 337v8M513.5 532v-9M522.5 337v3M522.5 532v-4M530.5 337v3M530.5 532v-4M538.5 337v3M538.5 532v-4M547.5 337v3M547.5 532v-4M556.5 337v3M556.5 532v-4M564.5 337v3M564.5 532v-4M572.5 337v3M572.5 532v-4M581.5 337v3M581.5 532v-4M590.5 337v3M590.5 532v-4M598.5 337v8M598.5 532v-9M606.5 337v3M606.5 532v-4M615.5 337v3M615.5 532v-4M624.5 337v3M624.5 532v-4M632.5 337v3M632.5 532v-4M640.5 337v3M640.5 532v-4M649.5 337v3M649.5 532v-4M658.5 337v3M658.5 532v-4M666.5 337v3M666.5 532v-4M674.5 337v3M674.5 532v-4M683.5 337v8M683.5 532v-9M692.5 337v3M692.5 532v-4M700.5 337v3M700.5 532v-4M708.5 337v3M708.5 532v-4M717.5 337v3M717.5 532v-4M726.5 337v3M726.5 532v-4M734.5 337v3M734.5 532v-4M742.5 337v3M742.5 532v-4M751.5 337v3M751.5 532v-4M760.5 337v3M760.5 532v-4M768.5 337v8M768.5 532v-9M776.5 337v3M776.5 532v-4M90 485.5h5M90 436.5h5M90 388.5h5M90 340.5h5"/>
<path fill="none" stroke="#000" stroke-width="1" shape-rendering="crispEdges" d="M87 436.5H777"/>
<path fill="none" stroke="#f00" stroke-width="1" shape-rendering="crispEdges" d="M87 422.5H777M87 451.5H777"/>
<polygon fill="none" stroke="#1e90ff" stroke-width="1.15" points="395.5,394.5 397.2,399.7 402.6,399.7 398.2,402.9 399.9,408.1 395.5,404.9 391.1,408.1 392.8,402.9 388.4,399.7 393.8,399.7"/>
<polygon fill="none" stroke="#1e90ff" stroke-width="1.15" points="409.5,434.0 411.2,439.2 416.6,439.2 412.2,442.4 413.9,447.6 409.5,444.4 405.1,447.6 406.8,442.4 402.4,439.2 407.8,439.2"/>
<g font-family="'Liberation Sans', sans-serif" fill="#cb181d">
<text x="87.0" y="325.3" font-size="19.6" fill="#cb181d" text-anchor="middle" textLength="41.0" lengthAdjust="spacingAndGlyphs">1.48</text>
<text x="172.0" y="325.3" font-size="19.6" fill="#cb181d" text-anchor="middle" textLength="41.0" lengthAdjust="spacingAndGlyphs">2.44</text>
<text x="257.0" y="325.3" font-size="19.6" fill="#cb181d" text-anchor="middle" textLength="41.0" lengthAdjust="spacingAndGlyphs">3.27</text>
<text x="342.0" y="325.3" font-size="19.6" fill="#cb181d" text-anchor="middle" textLength="41.0" lengthAdjust="spacingAndGlyphs">3.83</text>
<text x="427.0" y="325.3" font-size="19.6" fill="#cb181d" text-anchor="middle" textLength="41.0" lengthAdjust="spacingAndGlyphs">4.27</text>
<text x="512.0" y="325.3" font-size="19.6" fill="#cb181d" text-anchor="middle" textLength="41.0" lengthAdjust="spacingAndGlyphs">4.65</text>
<text x="597.0" y="325.3" font-size="19.6" fill="#cb181d" text-anchor="middle" textLength="41.0" lengthAdjust="spacingAndGlyphs">5.00</text>
<text x="682.0" y="325.3" font-size="19.6" fill="#cb181d" text-anchor="middle" textLength="41.0" lengthAdjust="spacingAndGlyphs">5.31</text>
<text x="767.0" y="325.3" font-size="19.6" fill="#cb181d" text-anchor="middle" textLength="41.0" lengthAdjust="spacingAndGlyphs">5.55</text>
<text x="87.3" y="563.2" font-size="19.6" fill="#cb181d" text-anchor="middle" textLength="11.5" lengthAdjust="spacingAndGlyphs">0</text>
<text x="172.3" y="563.2" font-size="19.6" fill="#cb181d" text-anchor="middle" textLength="24.5" lengthAdjust="spacingAndGlyphs">10</text>
<text x="257.3" y="563.2" font-size="19.6" fill="#cb181d" text-anchor="middle" textLength="24.5" lengthAdjust="spacingAndGlyphs">20</text>
<text x="342.3" y="563.2" font-size="19.6" fill="#cb181d" text-anchor="middle" textLength="24.5" lengthAdjust="spacingAndGlyphs">30</text>
<text x="427.3" y="563.2" font-size="19.6" fill="#cb181d" text-anchor="middle" textLength="24.5" lengthAdjust="spacingAndGlyphs">40</text>
<text x="512.3" y="563.2" font-size="19.6" fill="#cb181d" text-anchor="middle" textLength="24.5" lengthAdjust="spacingAndGlyphs">50</text>
<text x="597.3" y="563.2" font-size="19.6" fill="#cb181d" text-anchor="middle" textLength="24.5" lengthAdjust="spacingAndGlyphs">60</text>
<text x="682.3" y="563.2" font-size="19.6" fill="#cb181d" text-anchor="middle" textLength="24.5" lengthAdjust="spacingAndGlyphs">70</text>
<text x="767.3" y="563.2" font-size="19.6" fill="#cb181d" text-anchor="middle" textLength="24.5" lengthAdjust="spacingAndGlyphs">80</text>
<text x="431.5" y="589.0" font-size="19.6" fill="#cb181d" text-anchor="middle" textLength="45.0" lengthAdjust="spacingAndGlyphs">Pixel</text>
<text x="80.0" y="349.6" font-size="19.6" fill="#cb181d" text-anchor="end" textLength="21.0" lengthAdjust="spacingAndGlyphs">20</text>
<text x="80.0" y="396.5" font-size="19.6" fill="#cb181d" text-anchor="end" textLength="21.0" lengthAdjust="spacingAndGlyphs">10</text>
<text x="80.0" y="444.0" font-size="19.6" fill="#cb181d" text-anchor="end" textLength="10.5" lengthAdjust="spacingAndGlyphs">0</text>
<text x="80.0" y="491.9" font-size="19.6" fill="#cb181d" text-anchor="end" textLength="38.5" lengthAdjust="spacingAndGlyphs">−10</text>
<text x="80.0" y="533.0" font-size="19.6" fill="#cb181d" text-anchor="end" textLength="38.5" lengthAdjust="spacingAndGlyphs">−20</text>
<text y="435.0" font-size="19.6" fill="#cb181d" transform="rotate(-90 23.0 435.0)"><tspan x="-69.0" textLength="59.5" lengthAdjust="spacingAndGlyphs">Space</tspan><tspan font-size="1"> </tspan><tspan x="-0.8" textLength="45.5" lengthAdjust="spacingAndGlyphs">Shift</tspan><tspan font-size="1"> </tspan><tspan x="54.9" textLength="60.5" lengthAdjust="spacingAndGlyphs">[pixel]</tspan></text>
</g>
<path fill="none" stroke="#555" stroke-width="1" d="M789 599L799 589M793 599L799 593M797 599L799 597"/>
</svg>
</body></html>
